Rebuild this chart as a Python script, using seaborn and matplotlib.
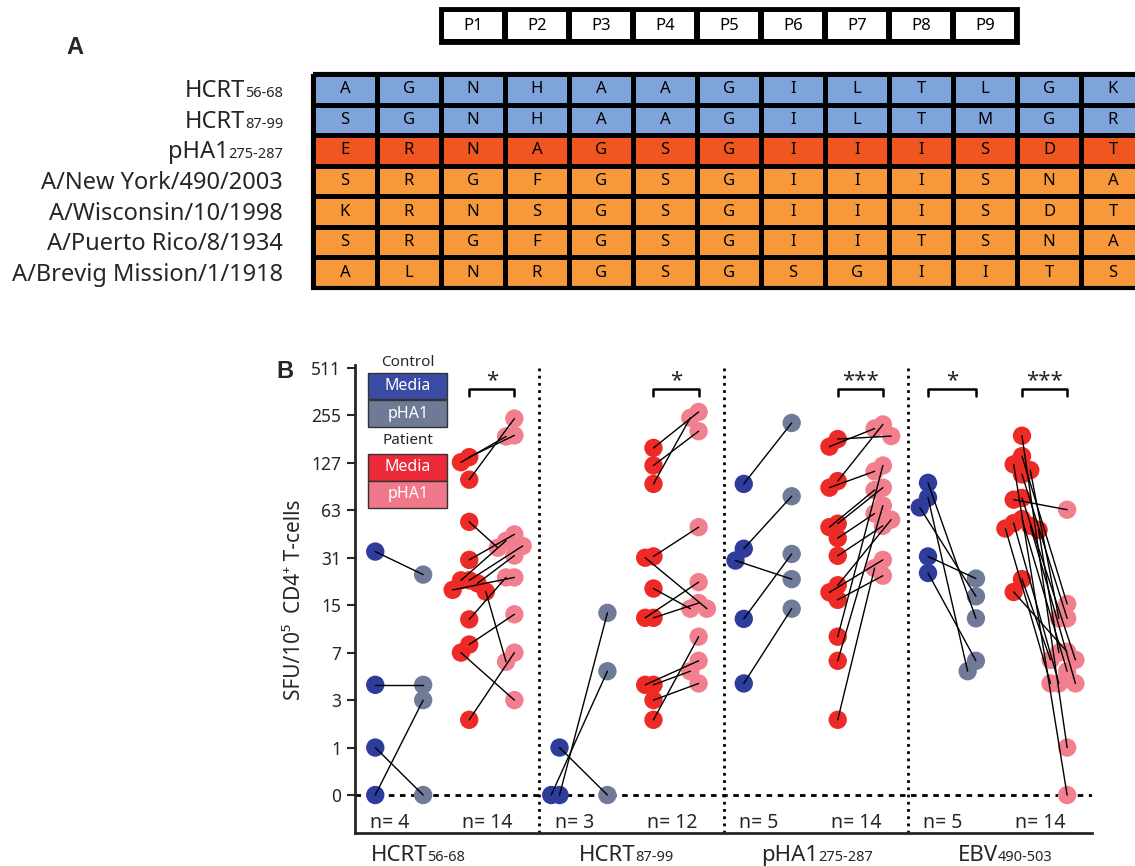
import numpy as np
import pandas as pd
import matplotlib.pyplot as plt
import seaborn as sns
from matplotlib.colors import ListedColormap
from matplotlib.patches import Rectangle

sns.set_style('ticks')
plt.rcParams['font.family'] = ['Noto Sans', 'DejaVu Sans']

# ---- Panel A data: peptide alignment ----
row_names = ["HCRT", "HCRT", "pHA1", "A/New York/490/2003", "A/Wisconsin/10/1998",
             "A/Puerto Rico/8/1934", "A/Brevig Mission/1/1918"]
row_subs = ["56-68", "87-99", "275-287", "", "", "", ""]
row_kind = [0, 0, 1, 2, 2, 2, 2]
sequences = ["AGNHAAGILTLGK",
             "SGNHAAGILTMGR",
             "ERNAGSGIIISDT",
             "SRGFGSGIIISNA",
             "KRNSGSGIIISDT",
             "SRGFGSGIITSNA",
             "ALNRGSGSGIITS"]
positions = ["P1", "P2", "P3", "P4", "P5", "P6", "P7", "P8", "P9"]
table_colors = ["#7EA4DB", "#F0561F", "#F7993A"]

# ---- Panel B data: SFU per 10^5 CD4+ T-cells (paired media / pHA1) ----
group_names = ["HCRT", "HCRT", "pHA1", "EBV"]
group_subs = ["56-68", "87-99", "275-287", "490-503"]

hcrt56_ctrl_media = [34, 4, 1, 0]
hcrt56_ctrl_pha1 = [24, 4, 0, 3]
hcrt56_pat_media = [99, 138, 128, 53, 30, 22, 22, 21, 19, 18.5, 12, 8, 7, 2]
hcrt56_pat_pha1 = [243, 190, 187, 36, 44, 37, 40, 32, 23, 6, 23, 13, 3, 7]

hcrt87_ctrl_media = [0, 0, 1]
hcrt87_ctrl_pha1 = [13.3, 5.1, 0]
hcrt87_pat_media = [158, 122, 93, 31.6, 31, 19.4, 12.3, 12.3, 4, 4, 3, 2]
hcrt87_pat_pha1 = [268, 202, 246, 49, 14.2, 14.2, 15.5, 21.4, 5.1, 6.1, 4.1, 9.1]

pha1_ctrl_media = [93, 35.5, 29.7, 12.1, 4.1]
pha1_ctrl_pha1 = [228, 77.5, 22.4, 32.8, 14.2]
pha1_pat_media = [180, 161, 97, 88, 51.6, 49, 41.6, 31.9, 18.3, 20.4, 16.3, 9.1, 6.1, 2]
pha1_pat_pha1 = [188, 210, 223, 112, 88, 85, 60, 50, 30, 54.8, 23.6, 122, 67.5, 26.5]

ebv_ctrl_media = [94.5, 76, 65.7, 31.6, 24.6]
ebv_ctrl_pha1 = [12.2, 5.1, 17.2, 22.6, 6.1]
ebv_pat_media = [189, 140, 124, 114, 107, 75.6, 73.7, 55.3, 52, 50, 48, 47, 22.4, 18.4]
ebv_pat_pha1 = [1, 15.3, 0, 12.2, 12.2, 6.2, 63.5, 5.1, 4.1, 4.1, 4.1, 7, 6.2, 7.1]

n_labels = [(4, 14), (3, 12), (5, 14), (5, 14)]
tick_values = [0, 1, 3, 7, 15, 31, 63, 127, 255, 511]
significance = [(0, "Patient", "*"), (1, "Patient", "*"), (2, "Patient", "***"),
                (3, "Control", "*"), (3, "Patient", "***")]

point_colors = {"Control Media": "#2E3C9C", "Control pHA1": "#6F7B98",
                "Patient Media": "#EE2A26", "Patient pHA1": "#F27F8E"}
legend_colors = {"Control Media": "#3A4BA5", "Control pHA1": "#6E7A96",
                 "Patient Media": "#EC2939", "Patient pHA1": "#F07889"}

W, H = 1135, 866
fig = plt.figure(figsize=(W / 100, H / 100), dpi=100)
renderer = fig.canvas.get_renderer()


def fx(x):
    return x / W


def fy(y):
    return 1 - y / H


def two_part(x, y, main, sub, size, sub_size, ha="right"):
    # x, y in display pixels (bottom origin), y is the baseline
    t1 = fig.text(x / W, y / H, main, fontsize=size, va="baseline", ha="left")
    w1 = t1.get_window_extent(renderer).width
    t2, w2 = None, 0
    if sub:
        t2 = fig.text(0, y / H, sub, fontsize=sub_size, va="baseline", ha="left")
        w2 = t2.get_window_extent(renderer).width
    x0 = x - w1 - w2 if ha == "right" else x - (w1 + w2) / 2
    t1.set_x(x0 / W)
    if t2 is not None:
        t2.set_x((x0 + w1) / W)


# ================= Panel A =================
letters = np.array([list(s) for s in sequences])
kind_mat = np.repeat(np.array(row_kind)[:, None], letters.shape[1], axis=1)

axA = fig.add_axes([fx(313), fy(288), (1145 - 313) / W, (288 - 74) / H])
sns.heatmap(kind_mat, annot=letters, fmt="", cmap=ListedColormap(table_colors),
            vmin=-0.5, vmax=2.5, cbar=False, linewidths=2.2, linecolor="black",
            annot_kws={"fontsize": 12, "color": "black"},
            xticklabels=False, yticklabels=False, ax=axA)
axA.add_patch(Rectangle((0, 0), letters.shape[1], letters.shape[0], fill=False,
                        lw=3, ec="black", clip_on=False))

axH = fig.add_axes([fx(441), fy(42), 576 / W, 33 / H])
sns.heatmap(np.zeros((1, len(positions))), annot=np.array([positions]), fmt="",
            cmap=ListedColormap(["white"]), cbar=False, linewidths=3, linecolor="black",
            annot_kws={"fontsize": 12, "color": "black"},
            xticklabels=False, yticklabels=False, ax=axH)
axH.add_patch(Rectangle((0, 0), len(positions), 1, fill=False, lw=3.5, ec="black",
                        clip_on=False))

row_h = (288 - 74) / len(row_names)
for i, (name, sub) in enumerate(zip(row_names, row_subs)):
    yc = 74 + row_h * (i + 0.5)
    two_part(283, H - (yc + 8), name, sub, 17, 10.5, ha="right")

fig.text(fx(75), fy(48), "A", fontsize=17, fontweight="bold", family="Liberation Sans",
         ha="center", va="center")

# ================= Panel B =================
all_data = [
    (hcrt56_ctrl_media, hcrt56_ctrl_pha1, hcrt56_pat_media, hcrt56_pat_pha1),
    (hcrt87_ctrl_media, hcrt87_ctrl_pha1, hcrt87_pat_media, hcrt87_pat_pha1),
    (pha1_ctrl_media, pha1_ctrl_pha1, pha1_pat_media, pha1_pat_pha1),
    (ebv_ctrl_media, ebv_ctrl_pha1, ebv_pat_media, ebv_pat_pha1),
]
centers = {"Control Media": 0.11, "Control pHA1": 0.37,
           "Patient Media": 0.62, "Patient pHA1": 0.865}
dodge = 0.045
gap = 0.3

records = []
pair_id = 0
for g, (cm, cp, pm, pp) in enumerate(all_data):
    for cohort, med, pha in [("Control", cm, cp), ("Patient", pm, pp)]:
        for a, b in zip(med, pha):
            records.append((g, cohort, "Media", pair_id, a))
            records.append((g, cohort, "pHA1", pair_id, b))
            pair_id += 1
df = pd.DataFrame(records, columns=["group", "cohort", "cond", "pair", "sfu"])
df["kind"] = df["cohort"] + " " + df["cond"]
df["level"] = np.log2(df["sfu"] + 1)

# simple two-column swarm so overlapping dots sit side by side
df["x"] = 0.0
for (g, kind), sub in df.groupby(["group", "kind"]):
    placed = []
    for idx in sub.sort_values("level", ascending=False).index:
        lv = df.at[idx, "level"]
        for off in [0, -dodge, dodge, -2 * dodge, 2 * dodge]:
            if all(not (o == off and abs(l - lv) < gap) for o, l in placed):
                break
        placed.append((off, lv))
        df.at[idx, "x"] = g + centers[kind] + off

axB = fig.add_axes([fx(355), fy(833), (1092 - 355) / W, (833 - 365) / H])
sns.scatterplot(data=df, x="x", y="level", hue="kind",
                hue_order=list(point_colors), palette=list(point_colors.values()),
                s=175, linewidth=0, legend=False, ax=axB, zorder=2)
sns.lineplot(data=df, x="x", y="level", units="pair", estimator=None, sort=False,
             color="black", lw=1, ax=axB, zorder=3)

axB.set_xlim(0, 4)
axB.set_ylim(-0.8, 9.06)
axB.set_yticks(range(len(tick_values)))
axB.set_yticklabels([str(v) for v in tick_values])
axB.set_xticks([])
axB.set_xlabel("")
axB.set_ylabel("")
sns.despine(ax=axB)
for sp in ["left", "bottom"]:
    axB.spines[sp].set_linewidth(2)
axB.tick_params(axis="y", length=6, width=1.5, labelsize=12.5, pad=4)

axB.axhline(0, color="black", lw=2, ls=(0, (2, 2)), zorder=1)
for g in range(1, 4):
    axB.axvline(g, color="black", lw=2, ls=(0, (1, 1.6)), zorder=1)

for g, (n1, n2) in enumerate(n_labels):
    axB.text(g + 0.19, -0.59, f"n= {n1}", ha="center", va="center", fontsize=14)
    axB.text(g + 0.72, -0.59, f"n= {n2}", ha="center", va="center", fontsize=14)

for g, cohort, label in significance:
    xl = g + centers[cohort + " Media"]
    xr = g + centers[cohort + " pHA1"]
    axB.plot([xl, xl, xr, xr], [8.4, 8.55, 8.55, 8.4], color="black", lw=1.8,
             clip_on=False)
    axB.text((xl + xr) / 2, 8.5, label, ha="center", va="bottom", fontsize=16)

label_centers = [0.34, 1.47, 2.51, 3.53]
for xc, name, sub in zip(label_centers, group_names, group_subs):
    xd, _ = axB.transData.transform((xc, 0))
    two_part(xd, H - 861, name, sub, 16, 10.5, ha="center")

fig.text(fx(295), fy(600), "SFU/10\u2075  CD4\u207A T-cells", rotation=90,
         ha="center", va="center", fontsize=15)
fig.text(fx(285), fy(372), "B", fontsize=17, fontweight="bold", family="Liberation Sans",
         ha="center", va="center")

# legend boxes
legend_layout = [("Control", 363, [("Control Media", "Media", 373), ("Control pHA1", "pHA1", 400)]),
                 ("Patient", 441, [("Patient Media", "Media", 454), ("Patient pHA1", "pHA1", 481)])]
for title, ty, boxes in legend_layout:
    fig.text(fx(408), fy(ty), title, ha="center", va="center", fontsize=11)
    for key, lab, top in boxes:
        fig.add_artist(Rectangle((fx(368), fy(top + 26.5)), 79 / W, 26.5 / H,
                                 transform=fig.transFigure, fc=legend_colors[key],
                                 ec="#333333", lw=1))
        fig.text(fx(408), fy(top + 13.5), lab, ha="center", va="center",
                 fontsize=11.5, color="white")

fig.savefig("out.png", dpi=100)
